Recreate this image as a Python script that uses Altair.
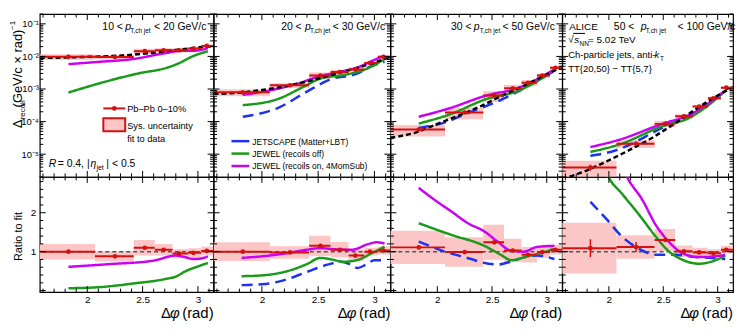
import altair as alt
import pandas as pd

# ---------------- values ----------------
PT_LO = ["10", "20", "30", "50"]
PT_HI = ["20", "30", "50", "100"]

EDGES = [1.5708, 2.07, 2.42, 2.61, 2.77, 2.91, 3.03, 3.1416]
CENTERS = [1.83, 2.25, 2.52, 2.69, 2.83, 2.96, 3.08]

YIELD = [
    [0.0097, 0.0096, 0.0145, 0.0155, 0.0155, 0.0174, 0.021],
    [7.9e-4, 1.3e-3, 2.6e-3, 3.3e-3, 4.0e-3, 6.3e-3, 9.7e-3],
    [5.7e-5, 1.9e-4, 6.3e-4, 1.05e-3, 1.55e-3, 2.6e-3, 4.5e-3],
    [3.9e-6, 2.1e-5, 8.5e-5, 1.45e-4, 2.9e-4, 5.2e-4, 1.1e-3],
]
RATIO = [
    [1.0, 0.88, 1.1, 1.05, 0.95, 0.97, 1.02],
    [1.0, 0.98, 1.15, 1.05, 0.9, 1.0, 1.03],
    [1.11, 0.99, 1.24, 1.03, 0.92, 0.99, 1.05],
    [1.09, 1.12, 1.3, 1.01, 0.98, 0.96, 1.05],
]
SYS = [
    [0.2, 0.13, 0.2, 0.15, 0.12, 0.12, 0.11],
    [0.24, 0.16, 0.26, 0.2, 0.14, 0.1, 0.1],
    [0.43, 0.38, 0.45, 0.3, 0.2, 0.15, 0.12],
    [0.65, 0.3, 0.28, 0.15, 0.12, 0.1, 0.1],
]
STAT = [
    [0.03, 0.03, 0.03, 0.03, 0.03, 0.03, 0.03],
    [0.03, 0.03, 0.03, 0.03, 0.03, 0.03, 0.03],
    [0.04, 0.03, 0.03, 0.03, 0.03, 0.03, 0.03],
    [0.23, 0.13, 0.05, 0.03, 0.02, 0.02, 0.02],
]

FIT_X = [1.5708, 1.8, 2.0, 2.2, 2.4, 2.6, 2.8, 3.0, 3.1416]
FIT_Y = [
    [0.0090, 0.0093, 0.0097, 0.0102, 0.0112, 0.0130, 0.0158, 0.0187, 0.021],
    [7.1e-4, 7.7e-4, 9.3e-4, 1.2e-3, 1.7e-3, 2.6e-3, 4.0e-3, 6.5e-3, 9.8e-3],
    [3.2e-5, 4.6e-5, 8.5e-5, 1.55e-4, 3.0e-4, 6.5e-4, 1.3e-3, 2.8e-3, 4.8e-3],
    [1.7e-6, 3.2e-6, 6.5e-6, 1.4e-5, 3.2e-5, 8.5e-5, 2.4e-4, 6.3e-4, 1.15e-3],
]

MODELS = ["JETSCAPE (Matter+LBT)", "JEWEL (recoils off)", "JEWEL (recoils on, 4MomSub)"]

JETSCAPE_TOP_X = [[], [1.83, 2.14, 2.4, 2.61, 2.84, 2.96, 3.09],
                  [1.83, 2.05, 2.29, 2.63, 2.79, 3.06], [1.83, 2.06, 2.49, 2.8, 3.06]]
JETSCAPE_TOP_Y = [[], [1.4e-4, 2.6e-4, 8.3e-4, 2.0e-3, 2.9e-3, 4.8e-3, 6.8e-3],
                  [6.4e-5, 9e-5, 1.9e-4, 5.5e-4, 1.05e-3, 3.4e-3], [8.9e-6, 1.3e-5, 6.4e-5, 2.0e-4, 8.3e-4]]
JEWOFF_TOP_X = [[1.83, 2.17, 2.46, 2.72, 2.82, 2.95, 3.09], [1.83, 2.14, 2.37, 2.52, 2.73, 2.94, 3.12],
                [1.83, 2.1, 2.47, 2.72, 2.88, 3.08], [1.83, 2.1, 2.49, 2.74, 2.88, 3.08]]
JEWOFF_TOP_Y = [[7.8e-4, 1.7e-3, 3.0e-3, 4.5e-3, 6.0e-3, 1.0e-2, 1.45e-2],
                [3.2e-4, 4.9e-4, 1.17e-3, 2.1e-3, 2.7e-3, 4.3e-3, 9.7e-3],
                [8.7e-5, 1.6e-4, 5.2e-4, 8.3e-4, 1.5e-3, 4.0e-3],
                [1.17e-5, 2.0e-5, 7.2e-5, 1.3e-4, 2.6e-4, 9.3e-4]]
JEWON_TOP_X = [[1.83, 2.1, 2.4, 2.7, 2.85, 2.95, 3.09], [1.83, 2.1, 2.3, 2.52, 2.7, 2.85, 2.99, 3.09],
               [1.83, 2.1, 2.47, 2.71, 3.06], [1.83, 2.1, 2.49, 2.74, 3.06]]
JEWON_TOP_Y = [[0.0058, 0.0068, 0.0082, 0.0125, 0.0148, 0.0148, 0.0178],
               [6.6e-4, 9.5e-4, 1.4e-3, 2.5e-3, 3.4e-3, 4.6e-3, 7.6e-3, 1.05e-2],
               [1.4e-4, 2.5e-4, 6.6e-4, 1.0e-3, 3.8e-3],
               [1.65e-5, 2.8e-5, 8.5e-5, 1.6e-4, 8.5e-4]]

JETSCAPE_R_X = [[], [1.82, 2.0, 2.2, 2.4, 2.6, 2.7, 2.78, 2.85, 2.92, 3.0, 3.09],
                [1.83, 2.07, 2.31, 2.40, 2.55, 2.68, 2.8, 2.92, 3.07],
                [1.83, 1.97, 2.12, 2.28, 2.43, 2.61, 2.80, 2.95, 3.07]]
JETSCAPE_R_Y = [[], [0.14, 0.16, 0.27, 0.48, 0.68, 0.74, 0.68, 0.58, 0.66, 0.78, 0.78],
                [1.26, 1.0, 0.81, 0.73, 0.67, 0.75, 0.86, 0.9, 0.81],
                [2.28, 1.86, 1.39, 1.07, 0.92, 0.92, 0.86, 0.84, 0.81]]
JEWOFF_R_X = [[1.83, 2.12, 2.41, 2.71, 2.8, 2.89, 3.01, 3.09],
              [1.82, 2.0, 2.2, 2.4, 2.52, 2.62, 2.72, 2.84, 2.99, 3.09],
              [1.83, 2.13, 2.43, 2.58, 2.68, 2.8, 2.95, 3.07],
              [1.95, 2.0, 2.12, 2.28, 2.43, 2.55, 2.67, 2.83, 2.95, 3.07]]
JEWOFF_R_Y = [[0.06, 0.09, 0.18, 0.3, 0.36, 0.5, 0.63, 0.71],
              [0.37, 0.39, 0.48, 0.68, 0.84, 0.8, 0.74, 0.78, 0.98, 1.13],
              [1.73, 1.43, 1.15, 0.92, 0.78, 0.86, 0.97, 1.07],
              [3.2, 2.9, 2.49, 1.94, 1.39, 1.01, 0.8, 0.69, 0.75, 0.9]]
JEWON_R_X = [[1.83, 2.2, 2.6, 2.8, 2.87, 2.96, 3.02, 3.09],
             [1.82, 2.0, 2.2, 2.4, 2.52, 2.65, 2.8, 2.95, 3.02, 3.09],
             [1.83, 1.98, 2.13, 2.28, 2.43, 2.55, 2.67, 2.79, 2.91, 3.07],
             [2.1, 2.17, 2.31, 2.43, 2.55, 2.67, 2.83, 2.98, 3.07]]
JEWON_R_Y = [[0.61, 0.68, 0.77, 0.9, 0.87, 0.81, 0.82, 0.88],
             [0.84, 0.88, 0.95, 1.05, 1.09, 1.06, 1.05, 1.2, 1.24, 1.21],
             [2.64, 2.32, 2.03, 1.73, 1.52, 1.26, 1.03, 1.0, 1.12, 1.15],
             [3.3, 2.9, 2.32, 1.69, 1.26, 0.97, 0.86, 0.88, 0.92]]

# ---------------- layout / style ----------------
W = [175, 178, 173, 172]
TOP_H, BOT_H = 164, 116
XDOM = [1.5708, 3.1416]
TOP_DOM = [2e-6, 0.2]
BOT_DOM = [-0.04, 2.92]
RED = "#d41010"
PINK = "#fcc6c6"
BLUE = "#1e32f0"
GREEN = "#1a9a1a"
MAGENTA = "#cc00f2"
FONT = "Liberation Sans"

TOP_YTICKS = pd.DataFrame([{"v": m * 10.0 ** d, "major": m == 1}
                           for d in range(-6, 0) for m in range(1, 10)
                           if TOP_DOM[0] <= m * 10.0 ** d <= TOP_DOM[1]])
BOT_YTICKS = pd.DataFrame([{"v": round(0.2 * k, 1), "major": k % 5 == 0} for k in range(0, 15)])
XTICKS = pd.DataFrame([{"v": round(1.6 + 0.1 * k, 1), "major": round(1.6 + 0.1 * k, 1) in (2.0, 2.5, 3.0)}
                       for k in range(16)])


def txt(s, x, y, size=10, align="left", italic=False, angle=0, color="black"):
    return alt.Chart(pd.DataFrame({"t": [s]})).mark_text(
        align=align, baseline="alphabetic", fontSize=size, font=FONT,
        fontStyle="italic" if italic else "normal", angle=angle, color=color
    ).encode(text="t:N", x=alt.value(x), y=alt.value(y))


def bins_df(i):
    rows = []
    for k in range(7):
        r, v, s, st = RATIO[i][k], YIELD[i][k], SYS[i][k], STAT[i][k]
        rows.append(dict(lo=EDGES[k], hi=EDGES[k + 1], c=CENTERS[k], val=v,
                         slo=v * (1 - s / r), shi=v * (1 + s / r),
                         elo=v * (1 - st / r), ehi=v * (1 + st / r),
                         r=r, rslo=r - s, rshi=r + s, relo=r - st, rehi=r + st))
    return pd.DataFrame(rows)


def model_df(i, top):
    sets = ([(MODELS[0], JETSCAPE_TOP_X, JETSCAPE_TOP_Y), (MODELS[1], JEWOFF_TOP_X, JEWOFF_TOP_Y),
             (MODELS[2], JEWON_TOP_X, JEWON_TOP_Y)] if top else
            [(MODELS[0], JETSCAPE_R_X, JETSCAPE_R_Y), (MODELS[1], JEWOFF_R_X, JEWOFF_R_Y),
             (MODELS[2], JEWON_R_X, JEWON_R_Y)])
    rows = []
    for name, xs, ys in sets:
        for x, y in zip(xs[i], ys[i]):
            rows.append(dict(model=name, x=x, y=y))
    return pd.DataFrame(rows)


LOG_LABELS = ("datum.value > 0.05 ? '10⁻¹' : datum.value > 0.005 ? '10⁻²' : "
              "datum.value > 0.0005 ? '10⁻³' : datum.value > 0.00005 ? '10⁻⁴' : '10⁻⁵'")


def panel(i, top):
    w = W[i]
    h = TOP_H if top else BOT_H
    xscale = alt.Scale(domain=XDOM, nice=False, zero=False)
    if top:
        yscale = alt.Scale(type="log", domain=TOP_DOM, nice=False)
    else:
        yscale = alt.Scale(domain=BOT_DOM, nice=False, zero=False)
    lab = dict(ticks=False, domain=False, grid=False, title=None, labelFont=FONT,
               labelColor="black", labelOverlap=False, labelFlush=False)
    xaxis = None if top else alt.Axis(values=[2, 2.5, 3], format="~g", labelPadding=2, labelFontSize=10, **lab)
    if i == 0:
        if top:
            yaxis = alt.Axis(values=[1e-5, 1e-4, 1e-3, 1e-2, 1e-1], labelExpr=LOG_LABELS, labelPadding=1.5,
                             labelFontSize=9.5, **lab)
        else:
            yaxis = alt.Axis(values=[1, 2], format="d", labelPadding=4, labelFontSize=10, **lab)
    else:
        yaxis = None

    def X(f):
        return alt.X(f, type="quantitative", scale=xscale, axis=xaxis)

    def Y(f):
        return alt.Y(f, type="quantitative", scale=yscale, axis=yaxis)

    b = bins_df(i)
    L = []
    if top:
        L.append(alt.Chart(b).mark_rect(color=PINK, clip=True).encode(x=X("lo"), x2="hi", y=Y("slo"), y2="shi"))
    else:
        L.append(alt.Chart(b).mark_rect(color=PINK, clip=True).encode(x=X("lo"), x2="hi", y=Y("rslo"), y2="rshi"))
        L.append(alt.Chart(pd.DataFrame({"one": [1.0]})).mark_rule(
            color="#555555", strokeDash=[4, 3], strokeWidth=1.5).encode(y=Y("one")))

    md = model_df(i, top)
    L.append(alt.Chart(md).mark_line(clip=True, strokeWidth=2.5, interpolate="monotone").encode(
        x=X("x"), y=Y("y"),
        color=alt.Color("model:N", scale=alt.Scale(domain=MODELS, range=[BLUE, GREEN, MAGENTA]), legend=None),
        strokeDash=alt.StrokeDash("model:N", scale=alt.Scale(domain=MODELS, range=[[11, 6], [1, 0], [1, 0]]),
                                  legend=None)))
    if top:
        fit = pd.DataFrame({"x": FIT_X, "y": FIT_Y[i]})
        L.append(alt.Chart(fit).mark_line(clip=True, color="black", strokeWidth=2.5, strokeDash=[5, 3],
                                          interpolate="monotone").encode(x=X("x"), y=Y("y")))

    vf, lf, hf = ("val", "elo", "ehi") if top else ("r", "relo", "rehi")
    L.append(alt.Chart(b).mark_rule(color=RED, strokeWidth=2, clip=True).encode(x=X("lo"), x2="hi", y=Y(vf)))
    L.append(alt.Chart(b).mark_rule(color=RED, strokeWidth=1.5, clip=True).encode(x=X("c"), y=Y(lf), y2=hf))
    L.append(alt.Chart(b).mark_point(filled=True, shape="circle", size=22, color=RED, opacity=1).encode(
        x=X("c"), y=Y(vf)))

    # inward ticks on all four sides
    yt = TOP_YTICKS if top else BOT_YTICKS
    for major, ln in [(True, 6), (False, 3.5)]:
        sub = yt[yt.major == major]
        L.append(alt.Chart(sub).mark_rule(color="black", strokeWidth=1).encode(
            y=Y("v"), x=alt.value(0), x2=alt.value(ln)))
        L.append(alt.Chart(sub).mark_rule(color="black", strokeWidth=1).encode(
            y=Y("v"), x=alt.value(w), x2=alt.value(w - ln)))
        subx = XTICKS[XTICKS.major == major]
        L.append(alt.Chart(subx).mark_rule(color="black", strokeWidth=1).encode(
            x=X("v"), y=alt.value(h), y2=alt.value(h - ln)))
        L.append(alt.Chart(subx).mark_rule(color="black", strokeWidth=1).encode(
            x=X("v"), y=alt.value(0), y2=alt.value(ln)))

    # texts
    if top:
        tx = [(63, 86, 91, 115), (68, 92, 97, 120), (61, 84, 90, 113), (52, 79, 84, 116)][i]
        L.append(txt(PT_LO[i] + " <", tx[0], 16, 10.5))
        L.append(txt("p", tx[1], 16, 10.5, italic=True))
        L.append(txt("T,ch jet", tx[2], 19, 6.5))
        L.append(txt("< " + PT_HI[i] + " GeV/c", tx[3], 16, 10.5))
        if i == 0:
            # legend
            L.append(alt.Chart(pd.DataFrame({"a": [0]})).mark_rule(color=RED, strokeWidth=2).encode(
                x=alt.value(64), x2=alt.value(86), y=alt.value(95)))
            L.append(alt.Chart(pd.DataFrame({"a": [0]})).mark_point(filled=True, size=22, color=RED, opacity=1).encode(
                x=alt.value(75), y=alt.value(95)))
            L.append(alt.Chart(pd.DataFrame({"a": [0]})).mark_rect(fill=PINK, stroke=RED, strokeWidth=2).encode(
                x=alt.value(64), x2=alt.value(86), y=alt.value(105), y2=alt.value(118)))
            L.append(txt("Pb–Pb 0–10%", 88, 99, 9.3))
            L.append(txt("Sys. uncertainty", 88, 116, 9.3))
            L.append(txt("fit to data", 88, 129, 9.3))
            L.append(txt("R", 9, 154, 10.5, italic=True))
            L.append(txt("= 0.4, |", 18, 154, 10.5))
            L.append(txt("η", 51, 154, 10.5, italic=True))
            L.append(txt("jet", 57, 157, 7))
            L.append(txt("| < 0.5", 67, 154, 10.5))
            # y-axis title
            L.append(txt("Δ", -18, 115, 13, angle=270))
            L.append(txt("recoil", -14.5, 106, 8, angle=270))
            L.append(txt("(GeV/c × rad)", -18, 94, 13, angle=270))
            L.append(txt("−1", -25, 16, 8, angle=270))
        if i == 1:
            for k, col in enumerate([BLUE, GREEN, MAGENTA]):
                yy = 128 + 12.5 * k
                L.append(alt.Chart(pd.DataFrame({"a": [0]})).mark_rule(color=col, strokeWidth=2.5).encode(
                    x=alt.value(18), x2=alt.value(36), y=alt.value(yy)))
                L.append(txt(MODELS[k], 39, yy + 3.5, 8.5))
        if i == 3:
            L.append(txt("ALICE", 7, 16, 10))
            L.append(txt("√", 6, 29, 10))
            L.append(alt.Chart(pd.DataFrame({"a": [0]})).mark_rule(color="black", strokeWidth=1).encode(
                x=alt.value(11), x2=alt.value(23), y=alt.value(19.5)))
            L.append(txt("s", 12, 29, 10, italic=True))
            L.append(txt("NN", 17.5, 32, 6.5))
            L.append(txt("= 5.02 TeV", 26, 29, 10))
            L.append(txt("Ch-particle jets, anti-", 6, 44, 9.6))
            L.append(txt("k", 93, 44, 9.6, italic=True))
            L.append(txt("T", 98.5, 47, 6.5))
            L.append(txt("TT{20,50} − TT{5,7}", 6, 58, 9.6))
    else:
        L.append(txt("Δ", w - 53, 142, 15))
        L.append(txt("φ", w - 44, 142, 15, italic=True))
        L.append(txt("(rad)", w, 142, 15, align="right"))
        if i == 0:
            L.append(txt("Ratio to fit", -18, 60, 11, align="center", angle=270))

    return alt.layer(*L).properties(width=w, height=h)


cells = [panel(i, True) for i in range(4)] + [panel(i, False) for i in range(4)]
chart = (alt.concat(*cells, columns=4, spacing=0, bounds="flush", align="each")
         .properties(padding={"left": 0, "top": 3, "right": 2, "bottom": 2})
         .configure_view(stroke="black", strokeWidth=1.2))

chart.save("out.html", embed_options={"renderer": "svg", "actions": False})
